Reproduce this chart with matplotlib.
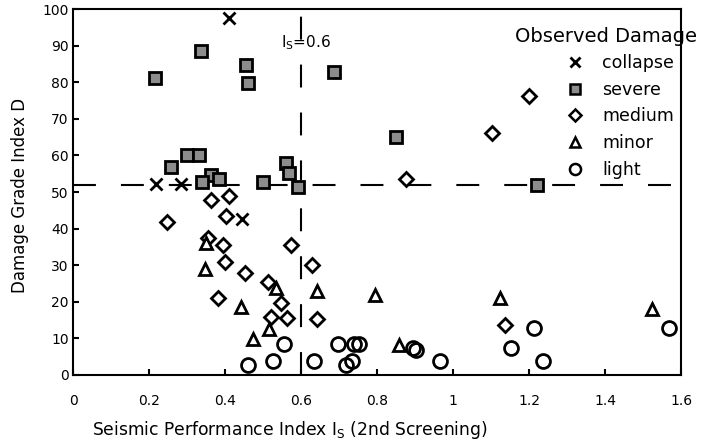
import matplotlib
matplotlib.use('Agg')
import matplotlib.pyplot as plt
from matplotlib.lines import Line2D

# ── Data ──────────────────────────────────────────────────────────────────────
collapse_x = [0.41, 0.219, 0.283, 0.446]
collapse_y = [97.5, 52.2, 52.2, 42.6]

severe_x = [0.215, 0.338, 0.456, 0.46, 0.687, 0.299, 0.332, 0.257, 0.362,
            0.383, 0.340, 0.50, 0.560, 0.568, 0.592, 0.849, 1.222]
severe_y = [81.1, 88.6, 84.7, 79.7, 82.9, 60.1, 60.1, 56.7, 54.6,
            53.6, 52.8, 52.8, 57.9, 55.1, 51.4, 65.1, 51.9]

medium_x = [0.362, 0.410, 0.875, 1.20, 1.103, 0.248, 0.402, 0.355, 0.396,
            0.573, 0.40, 0.452, 0.63, 0.513, 0.382, 0.547, 0.522, 0.564,
            0.641, 1.137]
medium_y = [47.8, 49.0, 53.5, 76.3, 66.0, 41.7, 43.5, 37.3, 35.5,
            35.5, 31.0, 28.0, 30.1, 25.5, 21.0, 19.6, 15.9, 15.7,
            15.2, 13.7]

minor_x = [0.349, 0.347, 0.535, 0.641, 0.441, 0.516, 0.474, 0.795, 1.124,
           1.523, 0.858]
minor_y = [36.0, 28.9, 23.7, 23.0, 18.7, 12.5, 9.8, 21.9, 21.0,
           18.0, 8.2]

light_x = [0.556, 0.461, 0.525, 0.634, 0.697, 0.739, 0.753, 0.718, 0.735,
           0.895, 0.902, 0.966, 1.213, 1.568, 1.152, 1.238]
light_y = [8.4, 2.7, 3.9, 3.9, 8.4, 8.4, 8.4, 2.7, 3.9,
           7.3, 6.8, 3.9, 12.8, 12.8, 7.3, 3.9]

is_limit = 0.6
d_limit = 52

x_ticks = [0, 0.2, 0.4, 0.6, 0.8, 1.0, 1.2, 1.4, 1.6]
x_tick_labels = ['0', '0.2', '0.4', '0.6', '0.8', '1', '1.2', '1.4', '1.6']
y_ticks = [0, 10, 20, 30, 40, 50, 60, 70, 80, 90, 100]

# ── Canvas ────────────────────────────────────────────────────────────────────
fig = plt.figure(figsize=(7.01, 4.48), dpi=100)
fig.patch.set_facecolor('white')
ax = fig.add_axes([73 / 701, 1 - 375 / 448, 608 / 701, 366 / 448])
ax.set_xlim(0, 1.6)
ax.set_ylim(0, 100)

for s in ax.spines.values():
    s.set_linewidth(1.5)

# reference lines
dash = (0, (11, 12))
ax.axvline(is_limit, color='black', lw=1.5, linestyle=dash, zorder=1)
ax.axhline(d_limit, color='black', lw=1.5, linestyle=dash, zorder=1)

# markers
ax.plot(collapse_x, collapse_y, 'x', color='black', ms=8, mew=2, zorder=3)
ax.plot(severe_x, severe_y, 's', mfc='#8c8c8c', mec='black', ms=8.5, mew=2, zorder=3)
ax.plot(medium_x, medium_y, 'D', mfc='white', mec='black', ms=7.5, mew=2, zorder=3)
ax.plot(minor_x, minor_y, '^', mfc='white', mec='black', ms=8, mew=2, zorder=3)
ax.plot(light_x, light_y, 'o', mfc='none', mec='black', ms=10, mew=2, zorder=3)

ax.text(0.547, 89.6, r'$\mathregular{I_S}$=0.6', fontsize=11,
        ha='left', va='baseline')

# ── Axes ──────────────────────────────────────────────────────────────────────
ax.set_xticks(x_ticks)
ax.set_xticklabels(x_tick_labels)
ax.set_yticks(y_ticks)
ax.tick_params(axis='both', direction='in', length=4, width=1.5, labelsize=10)
ax.tick_params(axis='x', pad=14)
ax.tick_params(axis='y', pad=3)

ax.set_xlabel(r'Seismic Performance Index $\mathregular{I_S}$ (2nd Screening)',
              fontsize=12.3)
ax.xaxis.set_label_coords(0.357, -0.12)
ax.set_ylabel('Damage Grade Index D', fontsize=12)
ax.yaxis.set_label_coords(-0.072, 0.49)

# ── Legend ────────────────────────────────────────────────────────────────────
handles = [
    Line2D([], [], ls='none', marker='x', color='black', ms=7, mew=2),
    Line2D([], [], ls='none', marker='s', mfc='#8c8c8c', mec='black', ms=7, mew=1.8),
    Line2D([], [], ls='none', marker='D', mfc='white', mec='black', ms=6, mew=1.8),
    Line2D([], [], ls='none', marker='^', mfc='white', mec='black', ms=7, mew=1.8),
    Line2D([], [], ls='none', marker='o', mfc='none', mec='black', ms=8, mew=1.8),
]
labels = ['collapse', 'severe', 'medium', 'minor', 'light']
fig.text(606 / 701, 1 - 42 / 448, 'Observed Damage', fontsize=14,
         ha='center', va='baseline')
fig.legend(handles, labels, loc='upper left',
           bbox_to_anchor=(566 / 701, 1 - 54 / 448),
           frameon=False, fontsize=12.5, handlelength=1.0, handletextpad=1.1,
           labelspacing=0.5, borderpad=0, borderaxespad=0, numpoints=1)

fig.savefig('out.png', dpi=100, facecolor='white')
plt.close(fig)
